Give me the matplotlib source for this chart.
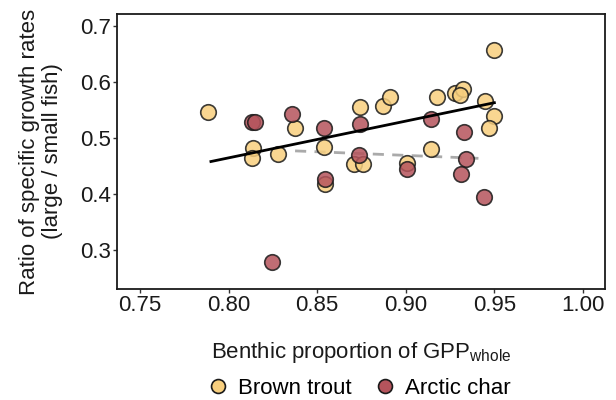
import matplotlib
matplotlib.use("Agg")
from matplotlib import pyplot as plt
from matplotlib.lines import Line2D

plt.rcParams["font.family"] = ["Liberation Sans", "DejaVu Sans"]

# brown trout
trout_x = [0.7885, 0.814, 0.813, 0.828, 0.8375, 0.854, 0.8544, 0.8743, 0.8708,
           0.8757, 0.887, 0.891, 0.9178, 0.9278, 0.9325, 0.9306, 0.9449, 0.950,
           0.9498, 0.9471, 0.914, 0.9005]
trout_y = [0.546, 0.482, 0.464, 0.471, 0.518, 0.4845, 0.418, 0.555, 0.453,
           0.453, 0.557, 0.574, 0.574, 0.581, 0.587, 0.577, 0.5667, 0.658,
           0.539, 0.517, 0.480, 0.455]

# arctic char
char_x = [0.813, 0.815, 0.836, 0.8247, 0.854, 0.8544, 0.8743, 0.8736, 0.914,
          0.9326, 0.9005, 0.934, 0.931, 0.9443]
char_y = [0.528, 0.528, 0.542, 0.279, 0.518, 0.426, 0.5245, 0.470, 0.534,
          0.511, 0.444, 0.462, 0.436, 0.395]

# fitted lines (endpoints)
trout_fit_x = [0.79, 0.95]
trout_fit_y = [0.458, 0.563]
char_fit_x = [0.8375, 0.941]
char_fit_y = [0.477, 0.4637]

xticks = [0.75, 0.80, 0.85, 0.90, 0.95, 1.00]
yticks = [0.3, 0.4, 0.5, 0.6, 0.7]

trout_col = "#F8CF7E"
char_col = "#B5545C"
FS = 16

fig = plt.figure(figsize=(6.16, 4.0), dpi=100)
ax = fig.add_axes([0.19, 0.2775, 0.792, 0.6875])

ax.plot(char_fit_x, char_fit_y, color="#AAAAAA", lw=2, ls=(0, (4, 3)), zorder=1)
ax.scatter(trout_x, trout_y, s=125, c=trout_col, edgecolors="#1a1a1a",
           linewidths=1.2, alpha=0.85, zorder=2)
ax.scatter(char_x, char_y, s=125, c=char_col, edgecolors="#1a1a1a",
           linewidths=1.2, alpha=0.85, zorder=3)
ax.plot(trout_fit_x, trout_fit_y, color="black", lw=2, zorder=4)

ax.set_xlim(0.737, 1.0124)
ax.set_ylim(0.2304, 0.7214)
ax.set_xticks(xticks)
ax.set_xticklabels(["%.2f" % v for v in xticks])
ax.set_yticks(yticks)
ax.set_yticklabels(["%.1f" % v for v in yticks])
ax.tick_params(labelsize=FS, length=3, width=1, color="#333333", pad=1.5,
               labelcolor="#1a1a1a")
for s in ax.spines.values():
    s.set_linewidth(1.3)
    s.set_color("#1a1a1a")

ax.set_xlabel(r"Benthic proportion of GPP$_{\mathregular{whole}}$", fontsize=FS,
              labelpad=17, color="#1a1a1a")
ax.set_ylabel("Ratio of specific growth rates\n(large / small fish)",
              fontsize=FS, labelpad=12, color="#1a1a1a", linespacing=1.15)

handles = [
    Line2D([], [], ls="none", marker="o", ms=10, mfc=trout_col, mec="#1a1a1a",
           mew=1.2, label="Brown trout"),
    Line2D([], [], ls="none", marker="o", ms=10, mfc=char_col, mec="#1a1a1a",
           mew=1.2, label="Arctic char"),
]
fig.legend(handles=handles, loc="center", bbox_to_anchor=(0.58, 0.03),
           ncol=2, frameon=False, fontsize=FS, handletextpad=0.3,
           columnspacing=0.9, handlelength=1.2)

fig.savefig("out.png", dpi=100)
